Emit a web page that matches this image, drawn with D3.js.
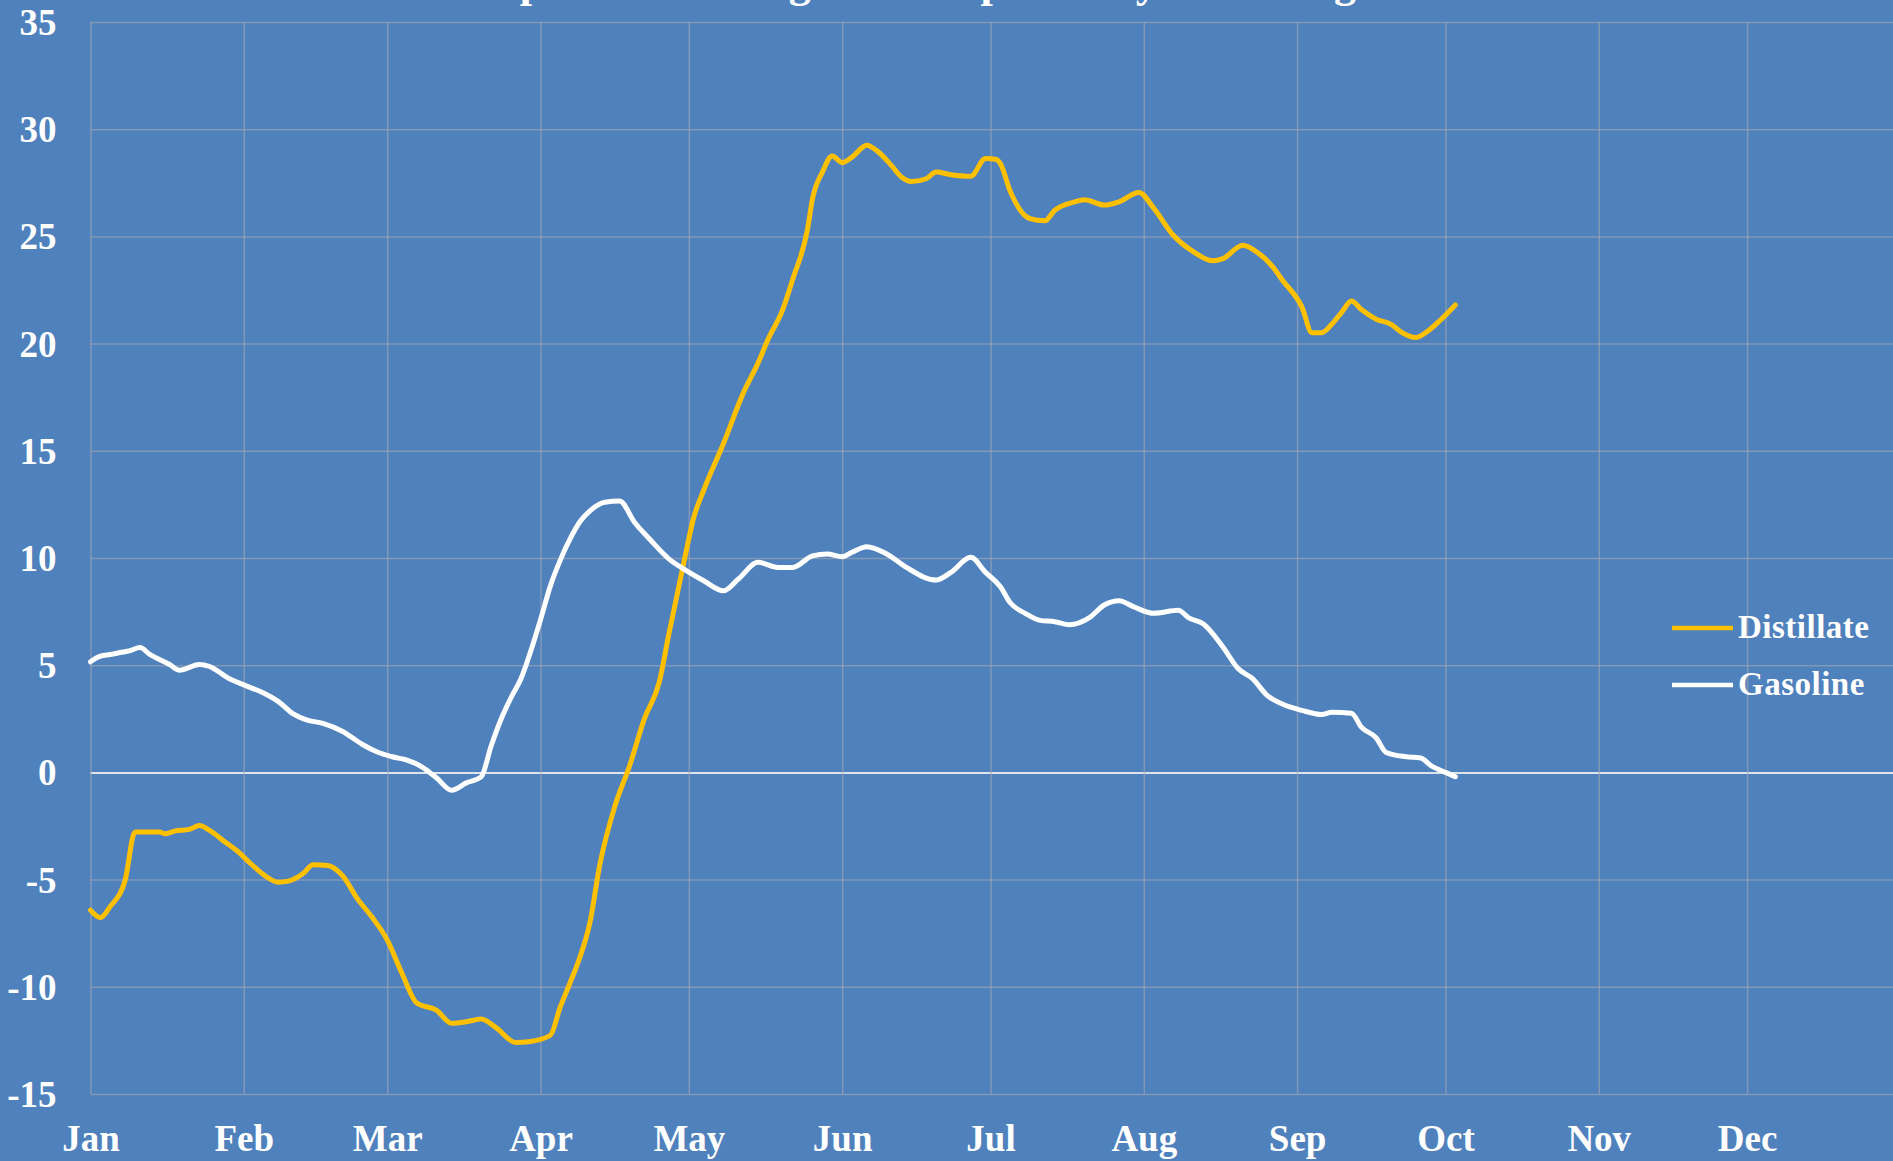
<!DOCTYPE html>
<html>
<head>
<meta charset="utf-8">
<script src="https://cdn.jsdelivr.net/npm/d3@7"></script>
<style>
  html, body { margin: 0; padding: 0; background: #4f81bd; overflow: hidden; }
  svg { display: block; font-family: "Liberation Serif", "DejaVu Serif", serif; }
</style>
</head>
<body>
<div id="chart"></div>
<script>
// days counted from 1 Jan 2020
const distDay = [0, 2, 4, 7, 9, 12, 14, 15, 17, 20, 22, 24, 27, 30, 32, 35, 38, 40, 43, 45, 48, 51, 54, 57, 60, 63, 66, 70, 73, 76, 79, 82, 86, 89, 93, 95, 97, 99, 101, 103, 106, 109, 112, 115, 117, 118, 120, 122, 124, 128, 132, 135, 137, 140, 142, 145, 146, 148, 150, 152, 154, 157, 159, 162, 164, 166, 169, 171, 174, 178, 181, 183, 184, 186, 190, 193, 195, 199, 201, 205, 208, 212, 215, 219, 223, 227, 229, 233, 236, 239, 241, 245, 247, 249, 251, 253, 255, 257, 260, 263, 265, 268, 270, 273, 276];
const distValue = [-6.42, -6.77, -6.25, -5.03, -2.78, -2.78, -2.78, -2.86, -2.74, -2.66, -2.48, -2.69, -3.21, -3.73, -4.17, -4.77, -5.12, -5.07, -4.72, -4.31, -4.34, -4.83, -5.9, -6.77, -7.81, -9.38, -10.76, -11.1, -11.7, -11.63, -11.5, -11.9, -12.6, -12.55, -12.26, -10.94, -9.8, -8.6, -7.0, -4.3, -1.6, 0.3, 2.5, 4.2, 6.5, 7.6, 9.8, 11.9, 13.16, 15.34, 17.69, 19.1, 20.19, 21.6, 23.0, 25.34, 26.75, 28.0, 28.75, 28.44, 28.7, 29.25, 29.0, 28.3, 27.77, 27.56, 27.69, 28.0, 27.88, 27.81, 28.63, 28.6, 28.4, 27.1, 25.83, 25.73, 26.22, 26.61, 26.71, 26.46, 26.61, 27.05, 26.32, 25.04, 24.29, 23.86, 23.96, 24.59, 24.25, 23.6, 22.97, 21.69, 20.51, 20.51, 20.9, 21.46, 21.99, 21.59, 21.14, 20.9, 20.55, 20.28, 20.51, 21.1, 21.8];

const gasDay = [0, 2, 4, 6, 8, 10, 12, 16, 18, 22, 24, 28, 31, 35, 38, 41, 44, 47, 51, 55, 58, 61, 64, 67, 70, 73, 76, 79, 81, 83, 85, 87, 89, 91, 93, 95, 97, 99, 101, 104, 107, 110, 113, 117, 120, 124, 128, 131, 135, 139, 142, 146, 149, 152, 154, 157, 161, 165, 171, 174, 178, 181, 184, 186, 189, 192, 195, 198, 202, 205, 208, 211, 215, 220, 222, 225, 229, 232, 235, 238, 241, 245, 249, 251, 255, 257, 260, 262, 266, 269, 271, 274, 276];
const gasValue = [5.16, 5.42, 5.5, 5.59, 5.68, 5.82, 5.5, 5.03, 4.77, 5.03, 4.95, 4.38, 4.08, 3.7, 3.3, 2.73, 2.43, 2.29, 1.91, 1.3, 0.95, 0.73, 0.57, 0.26, -0.26, -0.83, -0.49, -0.21, 1.22, 2.47, 3.47, 4.34, 5.64, 7.12, 8.7, 9.9, 10.9, 11.7, 12.2, 12.6, 12.66, 11.67, 10.9, 9.95, 9.48, 8.94, 8.47, 9.02, 9.8, 9.56, 9.56, 10.1, 10.19, 10.06, 10.27, 10.53, 10.19, 9.56, 8.97, 9.33, 10.03, 9.33, 8.66, 7.91, 7.42, 7.09, 7.03, 6.89, 7.22, 7.81, 8.01, 7.72, 7.42, 7.56, 7.22, 6.93, 5.85, 4.86, 4.37, 3.58, 3.19, 2.89, 2.7, 2.8, 2.76, 2.11, 1.61, 0.93, 0.73, 0.67, 0.33, 0.0, -0.2];

const yTicks = [-15, -10, -5, 0, 5, 10, 15, 20, 25, 30, 35];
const seriesNames = ["Distillate", "Gasoline"];
const seriesColors = ["#ffc000", "#ffffff"];
const title = "Exports: % change vs. comparable year average";

const width = 1893, height = 1161;
const start = new Date(2020, 0, 1), end = new Date(2021, 0, 1);

const svg = d3.select("#chart")
  .append("svg")
  .attr("width", width)
  .attr("height", height);

svg.append("rect")
  .attr("width", width)
  .attr("height", height)
  .attr("fill", "#4f81bd");

const x = d3.scaleTime()
  .domain([start, end])
  .range([90.5, 1900.4]);

const y = d3.scaleLinear()
  .domain([-15, 35])
  .range([1094, 22]);

// title, mostly cut off by the top edge (as in the source image)
svg.append("text")
  .attr("x", 922)
  .attr("y", -3.5)
  .attr("text-anchor", "middle")
  .attr("fill", "#fff")
  .attr("font-size", 44)
  .attr("font-weight", "bold")
  .text(title);

// horizontal grid + y labels
const yAxis = svg.append("g")
  .attr("transform", `translate(${x.range()[0]},0)`)
  .call(d3.axisLeft(y)
    .tickValues(yTicks)
    .tickSize(-(width - x.range()[0]))
    .tickPadding(34)
    .tickFormat(d => String(d)))
  .attr("font-family", null);
yAxis.select(".domain").remove();
yAxis.selectAll(".tick line")
  .attr("stroke", d => d === 0 ? "#dfe3ea" : "#a3a8b0")
  .attr("stroke-opacity", d => d === 0 ? 1 : 0.6)
  .attr("stroke-width", d => d === 0 ? 2 : 1.5);
yAxis.selectAll(".tick text")
  .attr("fill", "#fff")
  .attr("font-size", 37)
  .attr("font-weight", "bold")
  .attr("dy", "0.34em");

// vertical grid + month labels
const months = d3.timeMonth.range(start, end);
const xAxis = svg.append("g")
  .attr("transform", `translate(0,${y.range()[1]})`)
  .call(d3.axisBottom(x)
    .tickValues(months)
    .tickSize(y.range()[0] - y.range()[1])
    .tickPadding(0)
    .tickFormat(d3.timeFormat("%b")))
  .attr("font-family", null);
xAxis.select(".domain").remove();
xAxis.selectAll(".tick line")
  .attr("stroke", "#a3a8b0")
  .attr("stroke-opacity", 0.6)
  .attr("stroke-width", 1.5);
xAxis.selectAll(".tick text")
  .attr("fill", "#fff")
  .attr("font-size", 37)
  .attr("font-weight", "bold")
  .attr("dy", 0)
  .attr("y", 1151 - y.range()[1]);

// lines
const line = d3.line()
  .curve(d3.curveMonotoneX)
  .x(d => x(d3.timeDay.offset(start, d[0])))
  .y(d => y(d[1]));

const series = [
  d3.zip(distDay, distValue),
  d3.zip(gasDay, gasValue)
];

svg.append("g")
  .selectAll("path")
  .data(series)
  .join("path")
  .attr("fill", "none")
  .attr("stroke", (d, i) => seriesColors[i])
  .attr("stroke-width", 5)
  .attr("stroke-linejoin", "round")
  .attr("stroke-linecap", "round")
  .attr("d", line);

// legend
const legend = svg.append("g")
  .selectAll("g")
  .data(seriesNames)
  .join("g")
  .attr("transform", (d, i) => `translate(1672,${628 + i * 57})`);
legend.append("line")
  .attr("x1", 0)
  .attr("x2", 61)
  .attr("stroke", (d, i) => seriesColors[i])
  .attr("stroke-width", 4.5);
legend.append("text")
  .attr("x", 66)
  .attr("y", 10)
  .attr("fill", "#fff")
  .attr("font-size", 33)
  .attr("font-weight", "bold")
  .attr("letter-spacing", 0.5)
  .text(d => d);
</script>
</body>
</html>
